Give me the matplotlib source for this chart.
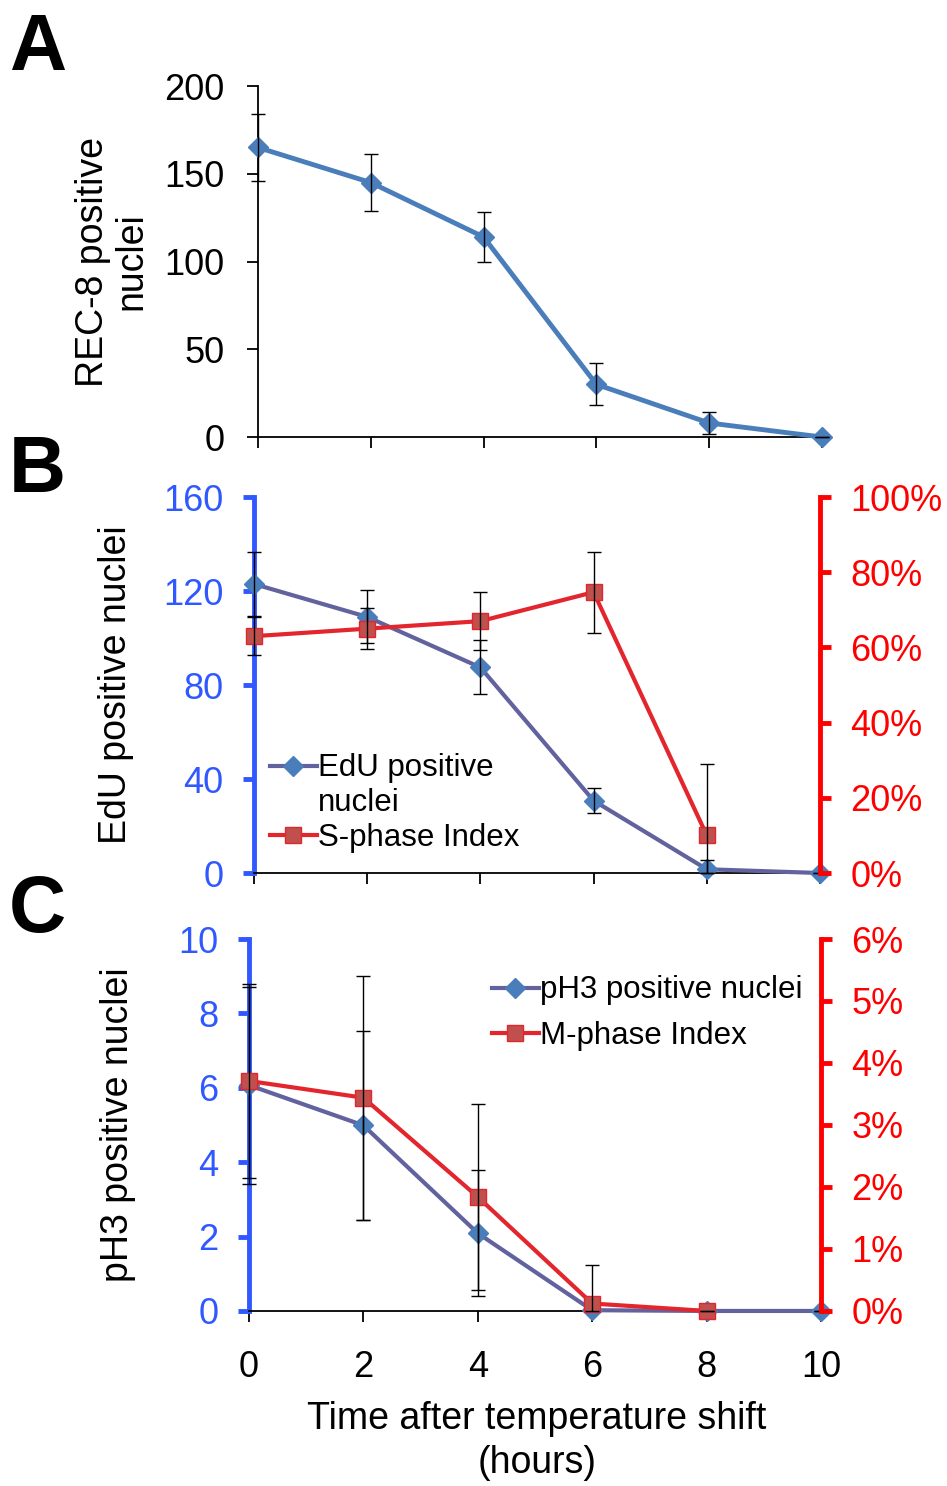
import matplotlib
matplotlib.use("Agg")
import matplotlib.pyplot as plt
from matplotlib.lines import Line2D
from matplotlib.ticker import FuncFormatter

plt.rcParams['font.family'] = ['Liberation Sans', 'DejaVu Sans']

# data
hours = [0, 2, 4, 6, 8, 10]
hours_idx = [0, 2, 4, 6, 8]

rec8 = [165, 145, 114, 30, 8, 0]
rec8_err = [19, 16, 14, 12, 6.5, 0]

edu = [123, 109, 87.5, 30.8, 1.6, 0]
edu_err = [13.6, 11.3, 11.5, 5.3, 3.8, 0]
sphase = [63, 65, 67, 74.7, 10]
sphase_err = [5, 5.4, 7.7, 10.8, 19]

ph3 = [6.07, 4.99, 2.09, 0.02, 0, 0]
ph3_err = [2.65, 2.55, 1.7, 0, 0, 0]
mphase = [3.71, 3.44, 1.84, 0.12, 0.0]
mphase_err = [1.57, 1.97, 1.5, 0.62, 0]

BLUE_LINE = '#4a7ebb'
PURPLE = '#62629f'
RED_LINE = '#e3262d'
RED_MK = '#c0504d'
AX_BLUE = '#3058ff'
AX_RED = '#ff0000'

TICK_FS = 26
LAB_FS = 27
LEG_FS = 22.5

fig = plt.figure(figsize=(9.47, 14.86), dpi=100)


def errbars(ax, x, y, e):
    # lower whisker stops at the x axis, like the original
    lower = [min(ei, yi) for ei, yi in zip(e, y)]
    eb = ax.errorbar(x, y, yerr=[lower, e], fmt='none', ecolor='black',
                     elinewidth=1.0, capsize=5, capthick=1.0, zorder=6)
    for part in eb.lines[1] + eb.lines[2]:
        part.set_clip_on(False)


# ---- panel A
axA = fig.add_axes([0.2724, 0.7059, 0.5956, 0.2362])
axA.plot(hours, rec8, color=BLUE_LINE, lw=3.5, marker='D', ms=10,
         mfc=BLUE_LINE, mec=BLUE_LINE, clip_on=False, zorder=5)
errbars(axA, hours, rec8, rec8_err)
axA.set_xlim(0, 10)
axA.set_ylim(0, 200)
axA.set_xticks(hours)
axA.set_xticklabels([])
axA.set_yticks([0, 50, 100, 150, 200])
for s in ['top', 'right']:
    axA.spines[s].set_visible(False)
for s in ['left', 'bottom']:
    axA.spines[s].set_linewidth(1.3)
axA.tick_params(direction='out', length=8, width=1.3, labelsize=TICK_FS, pad=16)
axA.set_ylabel('REC-8 positive\nnuclei', fontsize=LAB_FS, linespacing=1.1)
axA.yaxis.set_label_coords(-0.192, 0.5)


def dual_style(ax, ax2):
    ax.spines['top'].set_visible(False)
    ax.spines['right'].set_visible(False)
    ax.spines['left'].set_color(AX_BLUE)
    ax.spines['left'].set_linewidth(3.5)
    ax.spines['bottom'].set_linewidth(1.3)
    for s in ['top', 'left', 'bottom']:
        ax2.spines[s].set_visible(False)
    ax2.spines['right'].set_color(AX_RED)
    ax2.spines['right'].set_linewidth(3.5)
    ax.tick_params(axis='x', direction='out', length=8, width=1.3,
                   labelsize=TICK_FS, pad=20)
    ax.tick_params(axis='y', direction='out', length=8, width=3.5,
                   color=AX_BLUE, labelcolor=AX_BLUE, labelsize=TICK_FS, pad=14)
    ax2.tick_params(axis='y', direction='out', length=8, width=3.5,
                    color=AX_RED, labelcolor=AX_RED, labelsize=TICK_FS, pad=14)
    ax.set_xlim(0, 10)
    ax.set_xticks(hours)


pct = FuncFormatter(lambda v, p: '%d%%' % round(v))
blank = Line2D([], [], color='none')

# ---- panel B
axB = fig.add_axes([0.2682, 0.4125, 0.5977, 0.2530])
axB2 = axB.twinx()
dual_style(axB, axB2)
axB.set_xticklabels([])
errbars(axB, hours, edu, edu_err)
lb1, = axB.plot(hours, edu, color=PURPLE, lw=3, marker='D', ms=10,
                mfc=BLUE_LINE, mec=BLUE_LINE, clip_on=False, zorder=5)
errbars(axB2, hours_idx, sphase, sphase_err)
lb2, = axB2.plot(hours_idx, sphase, color=RED_LINE, lw=3, marker='s', ms=11,
                 mfc=RED_MK, mec=RED_LINE, clip_on=False, zorder=5)
axB.set_ylim(0, 160)
axB.set_yticks([0, 40, 80, 120, 160])
axB2.set_ylim(0, 100)
axB2.set_yticks([0, 20, 40, 60, 80, 100])
axB2.yaxis.set_major_formatter(pct)
axB.set_ylabel('EdU positive nuclei', fontsize=LAB_FS)
axB.yaxis.set_label_coords(-0.212, 0.5)
axB2.legend(handles=[lb1, blank, lb2],
            labels=['EdU positive', 'nuclei', 'S-phase Index'],
            loc='upper left', bbox_to_anchor=(0.028, 0.318),
            frameon=False, fontsize=LEG_FS, handlelength=1.5, handletextpad=0.05,
            labelspacing=0.15, borderaxespad=0, borderpad=0)

# ---- panel C
axC = fig.add_axes([0.2629, 0.1178, 0.6040, 0.2503])
axC2 = axC.twinx()
dual_style(axC, axC2)
errbars(axC, hours, ph3, ph3_err)
lc1, = axC.plot(hours, ph3, color=PURPLE, lw=3, marker='D', ms=10,
                mfc=BLUE_LINE, mec=BLUE_LINE, clip_on=False, zorder=5,
                label='pH3 positive nuclei')
errbars(axC2, hours_idx, mphase, mphase_err)
lc2, = axC2.plot(hours_idx, mphase, color=RED_LINE, lw=3, marker='s', ms=11,
                 mfc=RED_MK, mec=RED_LINE, clip_on=False, zorder=5,
                 label='M-phase Index')
axC.set_ylim(0, 10)
axC.set_yticks([0, 2, 4, 6, 8, 10])
axC2.set_ylim(0, 6)
axC2.set_yticks([0, 1, 2, 3, 4, 5, 6])
axC2.yaxis.set_major_formatter(pct)
axC.set_ylabel('pH3 positive nuclei', fontsize=LAB_FS)
axC.yaxis.set_label_coords(-0.198, 0.5)
axC2.legend(handles=[lc1, lc2], loc='upper left', bbox_to_anchor=(0.425, 0.902),
            frameon=False, fontsize=LEG_FS, handlelength=1.5, handletextpad=0.05,
            labelspacing=0.5, borderaxespad=0, borderpad=0)

fig.text(0.567, 1 - 1441 / 1486, 'Time after temperature shift\n(hours)',
         ha='center', va='center', fontsize=LAB_FS, linespacing=1.28)

for letter, ytop in [('A', 12), ('B', 434), ('C', 874)]:
    fig.text(9 / 947, 1 - ytop / 1486, letter, fontsize=57, fontweight='bold',
             ha='left', va='top')

fig.savefig('out.png', dpi=100)
